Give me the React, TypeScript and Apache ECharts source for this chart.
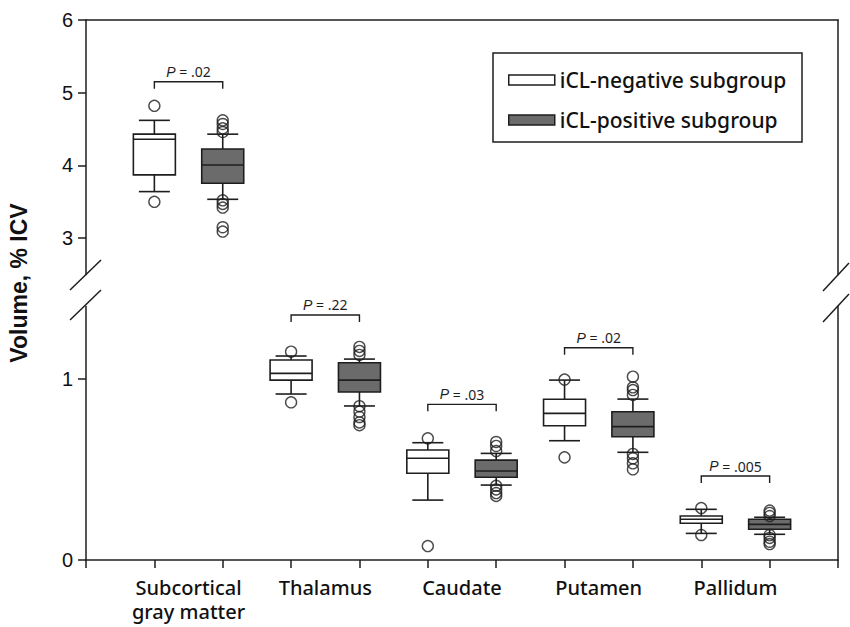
import React, { useEffect, useRef } from "react";
import * as echarts from "echarts";

const categories = ["Subcortical\ngray matter", "Thalamus", "Caudate", "Putamen", "Pallidum"];
const groupNames = ["iCL-negative subgroup", "iCL-positive subgroup"];

// [low whisker, Q1, median, Q3, high whisker]
const negStats = [
  [3.64, 3.87, 4.36, 4.43, 4.62],
  [0.917, 0.994, 1.031, 1.105, 1.127],
  [0.331, 0.479, 0.562, 0.608, 0.648],
  [0.659, 0.742, 0.81, 0.888, 0.994],
  [0.147, 0.203, 0.225, 0.243, 0.28],
];
const posStats = [
  [3.534, 3.754, 4.005, 4.226, 4.43],
  [0.851, 0.928, 0.994, 1.09, 1.11],
  [0.414, 0.457, 0.492, 0.552, 0.589],
  [0.595, 0.681, 0.737, 0.819, 0.889],
  [0.142, 0.17, 0.197, 0.225, 0.236],
];
const negOutliers = [
  [4.82, 3.5],
  [1.151, 0.871],
  [0.672, 0.077],
  [0.997, 0.567],
  [0.287, 0.138],
];
const posOutliers = [
  [4.62, 4.57, 4.51, 4.46, 3.52, 3.47, 3.42, 3.15, 3.09],
  [1.177, 1.155, 1.133, 0.85, 0.82, 0.79, 0.76, 0.745],
  [0.652, 0.63, 0.602, 0.41, 0.39, 0.37, 0.354],
  [1.013, 0.954, 0.939, 0.912, 0.586, 0.562, 0.534, 0.501],
  [0.273, 0.26, 0.243, 0.138, 0.122, 0.101, 0.088],
];
const pValues = [".02", ".22", ".03", ".02", ".005"];
const bracketLevels = [5.15, 1.354, 0.86, 1.173, 0.464];

const upperTicks = [3, 4, 5, 6];
const lowerTicks = [0, 1];
const xTicks = [0, 1, 2, 3, 4, 5, 6, 7, 8, 9, 10, 11];
const labelPositions = [1.5, 3.5, 5.5, 7.5, 9.5];

const INK = "#1e1e1e";
const FILLS = ["#ffffff", "#6b6b6b"];
const GEO = "'Noto Sans', sans-serif";
const ARIAL = "'Liberation Sans', Arial, sans-serif";

function boxData(stats: number[][], offset: number, upper: boolean) {
  return stats
    .map((s, i) => ({ s, i }))
    .filter((d) => (d.i === 0) === upper)
    .map((d) => [2 * d.i + offset, ...d.s]);
}
function outlierData(outs: number[][], offset: number, upper: boolean) {
  const res: number[][] = [];
  outs.forEach((vals, i) => {
    if ((i === 0) !== upper) return;
    vals.forEach((v) => res.push([2 * i + offset, v]));
  });
  return res;
}
function bracketData(upper: boolean) {
  return bracketLevels
    .map((y, i) => ({ y, i }))
    .filter((d) => (d.i === 0) === upper)
    .map((d) => [2 * d.i + 1, 2 * d.i + 2, d.y, d.i]);
}

function boxRenderer(fill: string) {
  return (params: any, api: any) => {
    const x = api.value(0);
    const cx = api.coord([x, api.value(1)])[0];
    const yLo = api.coord([x, api.value(1)])[1];
    const yQ1 = api.coord([x, api.value(2)])[1];
    const yMd = api.coord([x, api.value(3)])[1];
    const yQ3 = api.coord([x, api.value(4)])[1];
    const yHi = api.coord([x, api.value(5)])[1];
    const bw = 42;
    const cw = 31;
    const ls = { stroke: INK, lineWidth: 1.6 };
    return {
      type: "group",
      children: [
        { type: "line", shape: { x1: cx, y1: yHi, x2: cx, y2: yQ3 }, style: ls },
        { type: "line", shape: { x1: cx, y1: yQ1, x2: cx, y2: yLo }, style: ls },
        { type: "line", shape: { x1: cx - cw / 2, y1: yHi, x2: cx + cw / 2, y2: yHi }, style: ls },
        { type: "line", shape: { x1: cx - cw / 2, y1: yLo, x2: cx + cw / 2, y2: yLo }, style: ls },
        {
          type: "rect",
          shape: { x: cx - bw / 2, y: yQ3, width: bw, height: yQ1 - yQ3 },
          style: { fill, stroke: INK, lineWidth: 1.6 },
        },
        { type: "line", shape: { x1: cx - bw / 2, y1: yMd, x2: cx + bw / 2, y2: yMd }, style: ls },
      ],
    };
  };
}

function bracketRenderer(params: any, api: any) {
  const x1 = api.value(0);
  const x2 = api.value(1);
  const y = api.value(2);
  const idx = api.value(3);
  const p1 = api.coord([x1, y]);
  const p2 = api.coord([x2, y]);
  const tip = 7;
  return {
    type: "group",
    children: [
      {
        type: "polyline",
        shape: {
          points: [
            [p1[0], p1[1] + tip],
            [p1[0], p1[1]],
            [p2[0], p2[1]],
            [p2[0], p2[1] + tip],
          ],
        },
        style: { stroke: INK, lineWidth: 1.4, fill: "none" },
      },
      {
        type: "text",
        x: (p1[0] + p2[0]) / 2,
        y: p1[1] - 10,
        style: {
          text: "{i|P}{n| = " + pValues[idx] + "}",
          align: "center",
          verticalAlign: "middle",
          rich: {
            i: { fontStyle: "italic", fontSize: 14, fontFamily: ARIAL, fill: INK },
            n: { fontSize: 14, fontFamily: GEO, fill: INK },
          },
        },
      },
    ],
  };
}

export default function App() {
  const ref = useRef<HTMLDivElement>(null);
  useEffect(() => {
    document.body.style.margin = "0";
    if (!ref.current) return;
    const chart = echarts.init(ref.current, null, { renderer: "svg" });

    const axisLine = { show: true, onZero: false, lineStyle: { color: INK, width: 1.5 } };
    const series: any[] = [];
    [negStats, posStats].forEach((stats, g) => {
      [true, false].forEach((upper) => {
        series.push({
          type: "custom",
          name: groupNames[g],
          xAxisIndex: upper ? 0 : 1,
          yAxisIndex: upper ? 0 : 2,
          renderItem: boxRenderer(FILLS[g]),
          itemStyle: { color: FILLS[g], borderColor: INK, borderWidth: 1.5 },
          encode: { x: 0, y: [1, 2, 3, 4, 5] },
          data: boxData(stats, g + 1, upper),
          z: 2,
        });
      });
    });
    [negOutliers, posOutliers].forEach((outs, g) => {
      [true, false].forEach((upper) => {
        series.push({
          type: "scatter",
          name: "outliers" + g + (upper ? "u" : "l"),
          xAxisIndex: upper ? 0 : 1,
          yAxisIndex: upper ? 0 : 2,
          symbol: "circle",
          symbolSize: 11,
          itemStyle: { color: "rgba(0,0,0,0)", borderColor: INK, borderWidth: 1.4 },
          data: outlierData(outs, g + 1, upper),
          z: 3,
          silent: true,
        });
      });
    });
    [true, false].forEach((upper) => {
      series.push({
        type: "custom",
        name: "brackets" + (upper ? "u" : "l"),
        xAxisIndex: upper ? 0 : 1,
        yAxisIndex: upper ? 0 : 2,
        renderItem: bracketRenderer,
        encode: { x: [0, 1], y: 2 },
        data: bracketData(upper),
        z: 4,
      });
    });

    const yLabel = {
      show: true,
      margin: 13,
      fontSize: 20,
      fontFamily: ARIAL,
      color: "#111",
    };

    const option: any = {
      animation: false,
      backgroundColor: "#ffffff",
      grid: [
        { left: 86, right: 12, top: 20, height: 254.5 },
        { left: 86, right: 12, top: 306.6, height: 253.4 },
      ],
      xAxis: [
        {
          type: "value",
          gridIndex: 0,
          position: "top",
          min: 0,
          max: 11,
          axisLine,
          axisTick: { show: false },
          axisLabel: { show: false },
          splitLine: { show: false },
        },
        {
          type: "value",
          gridIndex: 1,
          position: "bottom",
          min: 0,
          max: 11,
          axisLine,
          axisTick: {
            show: true,
            customValues: xTicks,
            length: 8,
            lineStyle: { color: INK, width: 1.5 },
          },
          axisLabel: {
            show: true,
            customValues: labelPositions,
            formatter: (v: number) => categories[Math.round((v - 1.5) / 2)] ?? "",
            margin: 15,
            fontSize: 20,
            lineHeight: 24,
            fontFamily: GEO,
            fontWeight: 500,
            color: "#111",
          },
          splitLine: { show: false },
        },
      ],
      yAxis: [
        {
          type: "value",
          gridIndex: 0,
          position: "left",
          min: 2.5,
          max: 6,
          axisLine,
          axisTick: {
            show: true,
            customValues: upperTicks,
            length: 8,
            lineStyle: { color: INK, width: 1.5 },
          },
          axisLabel: { ...yLabel, customValues: upperTicks },
          splitLine: { show: false },
        },
        {
          type: "value",
          gridIndex: 0,
          position: "right",
          min: 2.5,
          max: 6,
          axisLine,
          axisTick: { show: false },
          axisLabel: { show: false },
          splitLine: { show: false },
        },
        {
          type: "value",
          gridIndex: 1,
          position: "left",
          min: 0,
          max: 1.4,
          axisLine,
          axisTick: {
            show: true,
            customValues: lowerTicks,
            length: 8,
            lineStyle: { color: INK, width: 1.5 },
          },
          axisLabel: { ...yLabel, customValues: lowerTicks },
          splitLine: { show: false },
        },
        {
          type: "value",
          gridIndex: 1,
          position: "right",
          min: 0,
          max: 1.4,
          axisLine,
          axisTick: { show: false },
          axisLabel: { show: false },
          splitLine: { show: false },
        },
      ],
      legend: {
        left: 508,
        top: 68,
        orient: "vertical",
        itemWidth: 46,
        itemHeight: 10,
        itemGap: 16,
        padding: 0,
        icon: "rect",
        selectedMode: false,
        textStyle: { fontFamily: GEO, fontSize: 21, lineHeight: 24, color: "#111", fontWeight: 500 },
        data: [
          { name: groupNames[0], itemStyle: { color: FILLS[0], borderColor: INK, borderWidth: 1.5 } },
          { name: groupNames[1], itemStyle: { color: FILLS[1], borderColor: INK, borderWidth: 1.5 } },
        ],
      },
      graphic: [
        {
          type: "rect",
          shape: { x: 493, y: 53, width: 309, height: 89 },
          style: { fill: "none", stroke: INK, lineWidth: 1.5 },
          z: 10,
        },
        { type: "line", shape: { x1: 70, y1: 290, x2: 101, y2: 260 }, style: { stroke: INK, lineWidth: 1.5 } },
        { type: "line", shape: { x1: 70, y1: 320, x2: 101, y2: 290 }, style: { stroke: INK, lineWidth: 1.5 } },
        { type: "line", shape: { x1: 823, y1: 291, x2: 849, y2: 263 }, style: { stroke: INK, lineWidth: 1.5 } },
        { type: "line", shape: { x1: 823, y1: 322, x2: 849, y2: 294 }, style: { stroke: INK, lineWidth: 1.5 } },
        {
          type: "text",
          x: 19,
          y: 283,
          rotation: Math.PI / 2,
          style: {
            text: "Volume, % ICV",
            align: "center",
            verticalAlign: "middle",
            font: "bold 23px 'Liberation Sans', Arial, sans-serif",
            fill: "#111",
          },
        },
      ],
      series,
    };
    chart.setOption(option);
    return () => chart.dispose();
  }, []);
  return (
    <div
      ref={ref}
      style={{ position: "absolute", left: 0, top: 0, width: 850, height: 627 }}
    />
  );
}
